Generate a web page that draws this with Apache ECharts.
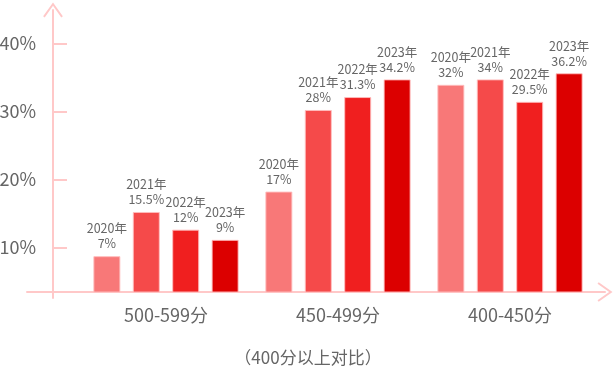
<!DOCTYPE html>
<html>
<head>
<meta charset="utf-8">
<script src="https://cdn.jsdelivr.net/npm/echarts@6/dist/echarts.min.js"></script>
<style>
html,body{margin:0;padding:0;background:#fff;}
#c{width:616px;height:367px;}
</style>
</head>
<body>
<div id="c"></div>
<script>
// ---- data ----
var categories = ['500-599分', '450-499分', '400-450分'];
var years = ['2020年', '2021年', '2022年', '2023年'];
// bar heights as drawn in the picture (percent)
var v2020 = [8.7, 18.2, 33.9];
var v2021 = [15.2, 30.2, 34.7];
var v2022 = [12.6, 32.1, 31.4];
var v2023 = [11.1, 34.7, 35.6];
// printed labels
var l2020 = ['7%', '17%', '32%'];
var l2021 = ['15.5%', '28%', '34%'];
var l2022 = ['12%', '31.3%', '29.5%'];
var l2023 = ['9%', '34.2%', '36.2%'];
var yTicks = [10, 20, 30, 40];
var subtitle = '（400分以上对比）';

var values = [v2020, v2021, v2022, v2023];
var labels = [l2020, l2021, l2022, l2023];
var colors = ['#F87878', '#F54A4A', '#F01F1F', '#DC0000'];
var FONT = "'Noto Sans CJK SC', 'Noto Sans', sans-serif";
var AX = '#FFC8C8';
var chevron = 'path://M50,0 L100,70 L92,76 L50,17 L8,76 L0,70 Z';
var yMin = 3.43, yMax = 46.08;

var chart = echarts.init(document.getElementById('c'));
var series = years.map(function (y, i) {
  return {
    name: y,
    type: 'bar',
    xAxisIndex: 0,
    yAxisIndex: 0,
    barWidth: 27,
    barGap: '46%',
    data: values[i],
    itemStyle: { color: colors[i], borderColor: 'rgba(255,190,190,0.9)', borderWidth: 1 },
    label: {
      show: true,
      position: 'top',
      distance: 5,
      fontFamily: FONT,
      fontSize: 12.5,
      lineHeight: 15,
      color: '#666',
      formatter: function (p) { return years[p.seriesIndex] + '\n' + labels[p.seriesIndex][p.dataIndex]; }
    }
  };
});

chart.setOption({
  animation: false,
  title: {
    text: subtitle,
    left: 'center',
    top: 348,
    padding: 0,
    textStyle: { fontFamily: FONT, fontSize: 17, fontWeight: 'normal', color: '#666', lineHeight: 20 }
  },
  grid: [
    { left: 80, right: 20, top: 2, bottom: 75, outerBoundsMode: 'none', containLabel: false },
    { left: 27, right: 11, top: 10, bottom: 69, outerBoundsMode: 'none', containLabel: false }
  ],
  xAxis: [
    {
      gridIndex: 0,
      type: 'category',
      data: categories,
      axisLine: { show: false },
      axisTick: { show: false },
      axisLabel: { fontFamily: FONT, fontSize: 18, color: '#666', margin: 14 }
    },
    {
      gridIndex: 1,
      type: 'value',
      min: 0, max: 1,
      offset: -6,
      axisLine: { show: true, onZero: false, symbol: ['none', chevron], symbolSize: [24, 15], lineStyle: { color: AX, width: 2 } },
      axisTick: { show: false },
      axisLabel: { show: false },
      splitLine: { show: false }
    }
  ],
  yAxis: [
    {
      gridIndex: 0,
      type: 'value',
      min: yMin, max: yMax,
      offset: 27,
      axisLine: { show: false },
      axisTick: { show: true, inside: true, length: 14, lineStyle: { color: AX, width: 2 }, customValues: yTicks },
      axisLabel: { fontFamily: FONT, fontSize: 18, color: '#666', margin: 17, customValues: yTicks, formatter: '{value}%' },
      splitLine: { show: false }
    },
    {
      gridIndex: 1,
      type: 'value',
      min: 0, max: 1,
      offset: -26,
      axisLine: { show: true, onZero: false, symbol: ['none', chevron], symbolSize: [22, 15], lineStyle: { color: AX, width: 2 } },
      axisTick: { show: false },
      axisLabel: { show: false },
      splitLine: { show: false }
    }
  ],
  series: series
});
</script>
</body>
</html>
